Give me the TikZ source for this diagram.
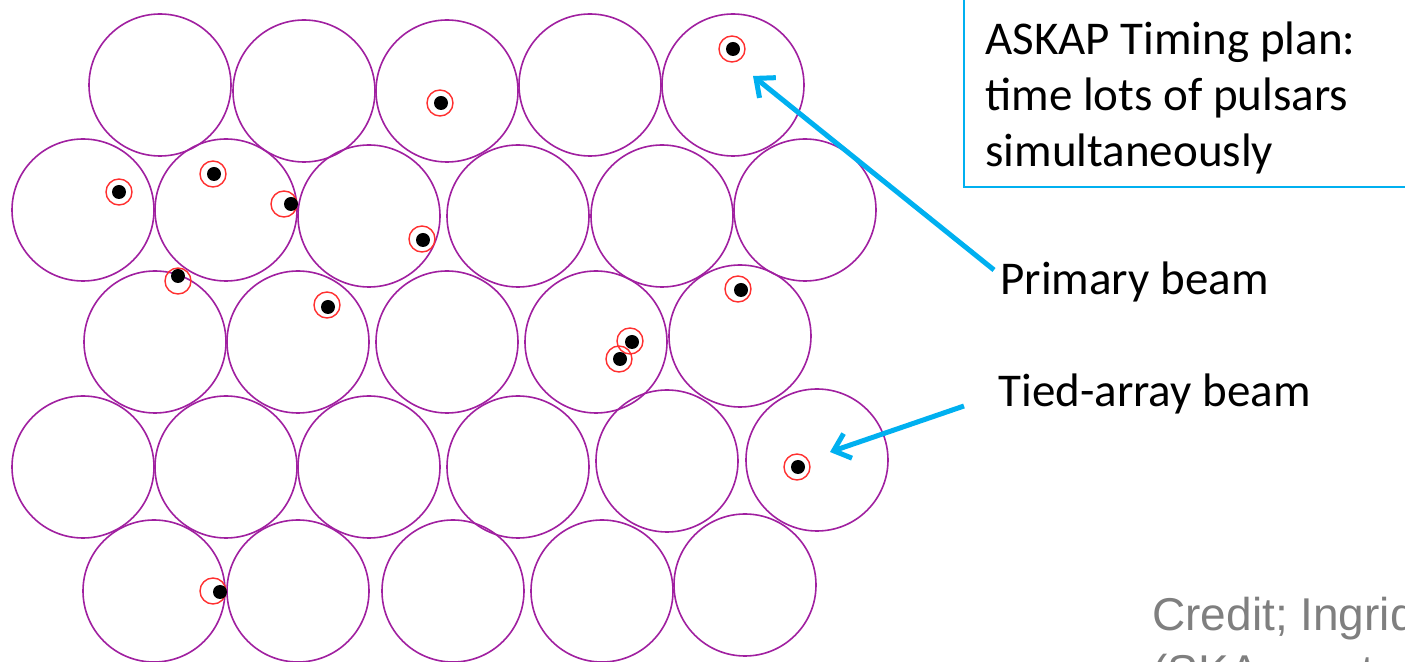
\documentclass[tikz,border=0pt]{standalone}
\usepackage{fontspec}
\setmainfont{Carlito}
\newfontfamily\creditfont{Liberation Sans}
\usetikzlibrary{arrows.meta}
\definecolor{beampurple}{RGB}{160,32,160}
\definecolor{ringred}{RGB}{255,48,48}
\definecolor{skyblue}{RGB}{0,176,240}
\definecolor{creditgray}{RGB}{127,127,127}

\begin{document}
\begin{tikzpicture}[
  x=0.5pt, y=-0.5pt,
  font=\fontsize{23.5}{28}\selectfont,
  beam/.style={draw=beampurple, line width=0.8pt, circle, inner sep=0pt, minimum size=71pt},
  ring/.style={draw=ringred, line width=0.7pt, circle, inner sep=0pt, minimum size=13pt},
  psrdot/.style={fill=black, circle, inner sep=0pt, minimum size=7pt},
  lbl/.style={anchor=base west, inner sep=0pt},
  arr/.style={draw=skyblue, line width=2.5pt, -{Straight Barb[length=7.5pt, width=13pt]}}
]
\useasboundingbox (0,0) rectangle (1405,662);

% primary beams, row by row
\foreach \bx/\by [count=\i] in {160/85, 304/91, 447/91, 590/85, 733/85,
    83/210, 226/210, 369/216, 518/216, 662/216, 805/210,
    155/342, 298/342, 447/342, 596/342, 740/336,
    83/467, 226/467, 369/467, 518/467, 667/461, 817/460,
    154/591, 298/591, 453/591, 602/591, 745/585}
  \node[beam] (b\i) at (\bx,\by) {};

% pulsars: ring centre / dot centre
\foreach \rx/\ry/\dx/\dy [count=\i] in {440/103/441/103, 732/49/733/49,
    119/192/119/192, 213/174/214/174, 284/204/291/204, 422/239/423/240,
    178/281/178/276, 327/305/328/307, 630/341/632/342, 619/359/620/359,
    738/289/741/290, 797/467/798/467, 213/591/220/592}{
  \node[ring] (ring\i) at (\rx,\ry) {};
  \node[psrdot] (psr\i) at (\dx,\dy) {};
}

% text box
\draw[skyblue, line width=1pt] (964,-10) rectangle (1420,187);
\node[inner sep=0pt, anchor=north west, align=left] (plan) at (985,21)
  {ASKAP Timing plan:\\time lots of pulsars\\simultaneously};

\node[lbl] (primary) at (1000,295) {Primary beam};
\node[lbl] (tied) at (998,407) {Tied-array beam};
\node[inner sep=0pt, anchor=north west, align=left, text=creditgray,
  font=\creditfont\fontsize{23}{28.5}\selectfont] (credit) at (1152,597)
  {Credit; Ingrid\\(SKA meet};

\coordinate (primarytip) at (753,76);
\coordinate (tiedtip) at (830,452);
\draw[arr] ([xshift=-3pt, yshift=-4pt]primary.north west) -- (primarytip);
\draw[arr] ([xshift=-17pt, yshift=0.5pt]tied.base west) -- (tiedtip);
\end{tikzpicture}
\end{document}
